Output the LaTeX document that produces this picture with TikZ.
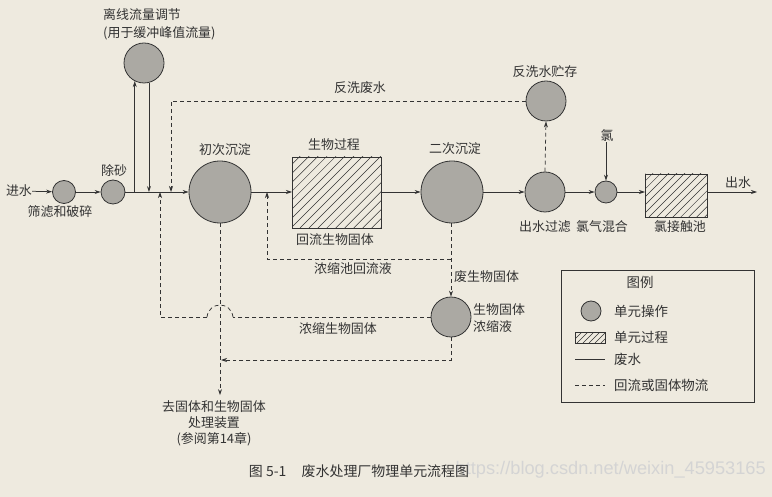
\documentclass[tikz,border=0pt]{standalone}
\usepackage{fontspec}
\setmainfont{Noto Sans CJK SC}
\newfontfamily\latinfont{Liberation Sans}
\usetikzlibrary{arrows.meta}
\definecolor{paper}{HTML}{EEEADF}
\definecolor{ink}{HTML}{333333}
\definecolor{opfill}{HTML}{ABA9A3}
\definecolor{wmark}{HTML}{D4D4D4}
\tikzset{
 lab/.style={font=\fontsize{13}{17}\selectfont, text=ink, inner sep=0pt, align=center},
 leglab/.style={font=\fontsize{13.5}{17}\selectfont, text=ink, inner sep=0pt, anchor=west},
 op/.style={circle, draw=ink, fill=opfill, line width=0.8pt, inner sep=0pt},
 proc/.style={draw=ink, line width=0.8pt, inner sep=0pt, outer sep=0pt, fill=paper},
 flow/.style={draw=ink, line width=0.75pt, -{Stealth[length=6pt,width=4pt]}},
 dflow/.style={draw=ink, line width=0.75pt, dash pattern=on 4pt off 3pt, -{Stealth[length=6pt,width=4pt]}},
 wline/.style={draw=ink, line width=0.75pt},
 dline/.style={draw=ink, line width=0.75pt, dash pattern=on 4pt off 3pt},
}
\newcommand\hatchnode[3]{%
 \begin{scope}
 \clip (#1.south west) rectangle (#1.north east);
 \foreach \i in {0,#2,...,#3} \draw[ink,line width=0.5pt] ([xshift={\i pt-100pt}]#1.south west) -- ++(100pt,100pt);
 \end{scope}
 \draw[ink,line width=0.8pt] (#1.south west) rectangle (#1.north east);}
\begin{document}
\begin{tikzpicture}[x=1bp,y=-1bp]
\fill[paper] (0,0) rectangle (772,497);
\useasboundingbox (0,0) rectangle (772,497);

% unit nodes
\node[lab] (jin) at (19,191) {进水};
\node[op, minimum size=23bp] (c1) at (64,192) {};
\node[lab] (c1l) at (60,212) {筛滤和破碎};
\node[op, minimum size=24bp] (c2) at (113,192) {};
\node[lab] (c2l) at (114,171) {除砂};
\node[op, minimum size=40bp] (eq) at (144,63) {};
\node[lab, anchor=west, align=left, font=\fontsize{13}{18}\selectfont] (eql) at (103,24) {离线流量调节\\(用于缓冲峰值流量)};
\node[op, minimum size=62bp] (pc) at (220,192) {};
\node[lab] (pcl) at (225,150) {初次沉淀};
\node[proc, minimum width=89bp, minimum height=71bp] (bio) at (336.5,192.5) {};
\node[lab] (biol) at (334,145) {生物过程};
\node[lab] (rasl) at (335,240) {回流生物固体};
\node[op, minimum size=62bp] (sc) at (452,192) {};
\node[lab] (scl) at (455,149) {二次沉淀};
\node[op, minimum size=40bp] (filt) at (545,192) {};
\node[lab] (filtl) at (545,227) {出水过滤};
\node[op, minimum size=40bp] (stor) at (546,101) {};
\node[lab] (storl) at (545,72) {反洗水贮存};
\node[lab] (bwl) at (360,88) {反洗废水};
\node[op, minimum size=22bp] (mix) at (606,192) {};
\node[lab] (mixl) at (602,227) {氯气混合};
\node[lab] (cl) at (607,136) {氯};
\node[proc, minimum width=62bp, minimum height=43bp] (ct) at (676,195.5) {};
\node[lab] (ctl) at (680,227) {氯接触池};
\node[lab] (outl) at (738,183) {出水};
\coordinate (out) at (757,192);
\node[op, minimum size=40bp] (th) at (451,317) {};
\node[lab, anchor=west] (wasl) at (454,277) {废生物固体};
\node[lab, anchor=west, align=left] (thl) at (473,318.5) {生物固体\\浓缩液};
\node[lab] (thrl) at (353,269) {浓缩池回流液};
\node[lab] (tbl) at (338,329) {浓缩生物固体};
\node[lab, font=\fontsize{13}{16}\selectfont] (sol) at (214,423) {去固体和生物固体\\处理装置\\(参阅第14章)};

\hatchnode{bio}{9}{190}
\hatchnode{ct}{8}{165}

% main flow
\draw[flow] (jin) -- (c1);
\draw[flow] (c1) -- (c2);
\draw[flow] (c2) -- (pc);
\draw[flow] (eq.243 |- pc) -- (eq.243);
\draw[flow] (eq.284) -- (eq.284 |- pc);
\draw[flow] (pc.east) -- (pc.east -| bio.west);
\draw[flow] (bio.east |- sc) -- (sc.west);
\draw[flow] (sc) -- (filt);
\draw[flow] (filt) -- (mix);
\draw[flow] (mix.east) -- (mix.east -| ct.west);
\draw[flow] (ct.east |- mix) -- (out);
\draw[flow] (cl.south -| mix) -- (mix.north);

% return / solids flows
\coordinate (bwin) at (171,192);
\draw[dflow] (stor.west) -| (bwin);
\draw[dflow] (filt.north) -- (stor.south);
\coordinate (rasin) at (267,192);
\coordinate (rasj) at (451,259);
\draw[dflow] (sc.south -| th.north) -- (th.north);
\draw[dflow] (rasj) -| (rasin);
\coordinate (thrin) at (160,192);
\coordinate (bumpR) at (233,317);
\coordinate (bumpL) at (207,317);
\draw[dline] (th.west) -- (bumpR);
\draw[dline] (bumpR) .. controls (231,301) and (209,301) .. (bumpL);
\draw[dflow] (bumpL) -| (thrin);
\coordinate (tbend) at (221,360);
\draw[dflow] (th.south) |- (tbend);
\draw[dflow] (pc.south) -- ([yshift=5pt]pc.south |- sol.north);

% legend
\node[draw=ink, line width=0.8pt, minimum width=193bp, minimum height=132bp, inner sep=0pt] (leg) at (657.5,336) {};
\node[lab, font=\fontsize{13.5}{17}\selectfont] (legt) at (640,282) {图例};
\node[op, minimum size=20bp] (lop) at (591,311) {};
\node[leglab] (lopl) at (614,311) {单元操作};
\node[proc, minimum width=30bp, minimum height=11bp] (lpr) at (590,337.5) {};
\hatchnode{lpr}{6}{135}
\node[leglab] (lprl) at (614,337) {单元过程};
\coordinate (lw1) at (575,359);
\coordinate (lw2) at (605,359);
\draw[wline] (lw1) -- (lw2);
\node[leglab] (lwl) at (614,359) {废水};
\coordinate (ld1) at (575,385);
\coordinate (ld2) at (605,385);
\draw[dline] (ld1) -- (ld2);
\node[leglab] (ldl) at (614,385) {回流或固体物流};

% caption and watermark
\node[anchor=east, inner sep=0pt, text=wmark, font=\latinfont\fontsize{18.3}{20}\selectfont] (wm) at (766,470) {https://blog.csdn.net/weixin\_45953165};
\node[inner sep=0pt, text=ink, font=\fontsize{14}{16}\selectfont] (cap) at (359,471) {图 5-1\hspace{1.1em}废水处理厂物理单元流程图};
\end{tikzpicture}
\end{document}
